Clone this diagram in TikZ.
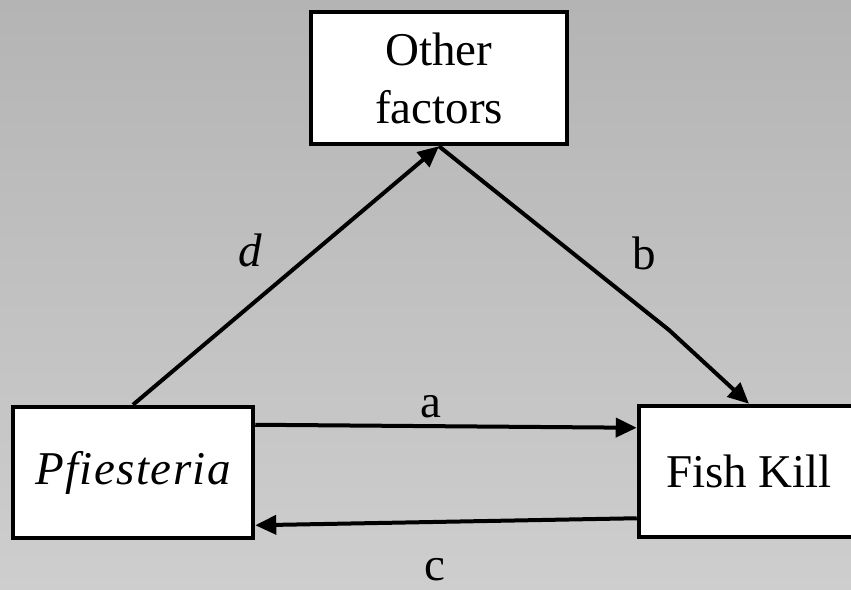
\documentclass[tikz,border=0pt]{standalone}
\usepackage{fontspec}
\setmainfont{Liberation Serif}
\usetikzlibrary{arrows.meta}
\begin{document}
\begin{tikzpicture}[x=1pt,y=-1pt,
  box/.style={draw=black, line width=4.5pt, fill=white, rectangle, inner sep=0pt, align=center,
    font=\fontsize{47}{58}\selectfont},
  conn/.style={line width=4pt, -{Triangle[length=21pt,width=19pt]}},
  lbl/.style={inner sep=0pt, font=\fontsize{47}{58}\selectfont}]
\useasboundingbox (0,0) rectangle (851,589);
\clip (0,0) rectangle (851,589);
\shade[top color={rgb,255:red,180;green,180;blue,180}, bottom color={rgb,255:red,206;green,206;blue,206}] (0,0) rectangle (851,589);
\node[box, minimum width=256pt, minimum height=132pt] (of) at (439,78) {Other\\factors};
\node[box, minimum width=240pt, minimum height=131pt] (pf) at (133,472.5) {\addfontfeatures{LetterSpace=3}\itshape Pfiesteria};
\node[box, minimum width=220pt, minimum height=131pt] (fk) at (749,471.5) {Fish Kill};
\coordinate (kink) at (669,330);
\draw[conn] ([yshift=-20pt]pf.north east) -- ([yshift=-24pt]fk.north west);
\draw[conn] ([yshift=21pt]fk.south west) -- ([yshift=15pt]pf.south east);
\draw[conn] (pf.north) -- (of.south);
\draw[conn] (of.south) -- (kink) -- (fk.north);
\node[lbl] (la) at (431,407) {a};
\node[lbl] (lb) at (644,253) {b};
\node[lbl] (lc) at (435,570) {c};
\node[lbl] (ld) at (250,250) {\itshape d};
\end{tikzpicture}
\end{document}
